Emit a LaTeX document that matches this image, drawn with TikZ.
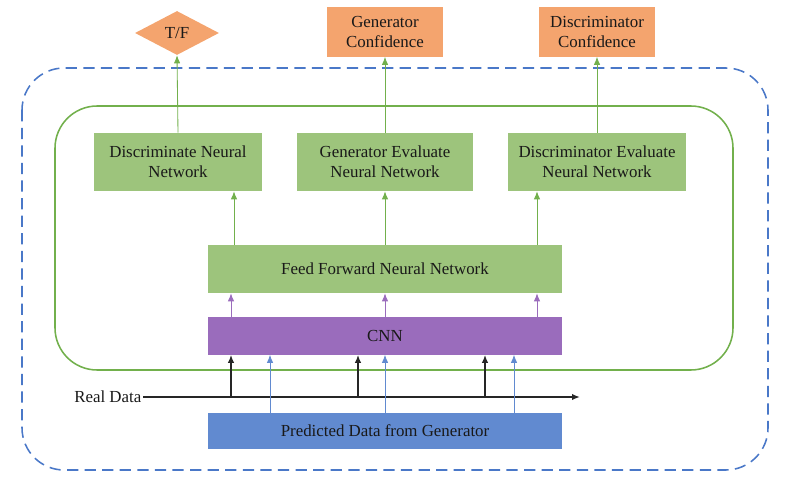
\documentclass[tikz,border=0pt]{standalone}
\usepackage{fontspec}
\setmainfont{Liberation Serif}
\usepackage{xcolor}
\definecolor{outOrange}{HTML}{F4A46E}
\definecolor{nnGreen}{HTML}{9DC47C}
\definecolor{lnGreen}{HTML}{72B04C}
\definecolor{cnnPurple}{HTML}{9A6CBC}
\definecolor{predBlue}{HTML}{618AD0}
\definecolor{dashBlue}{HTML}{4A78C8}
\usetikzlibrary{arrows.meta, positioning, shapes.geometric, calc}

\begin{document}
\begin{tikzpicture}[
  x=0.025cm, y=-0.025cm,
  every node/.style={font=\fontsize{12}{14.5}\selectfont, text=black!90},
  box/.style={rectangle, inner sep=2pt, align=center},
  nnbox/.style={box, fill=nnGreen, minimum height=1.45cm},
  outbox/.style={box, fill=outOrange, minimum width=2.875cm, minimum height=1.225cm},
  wide/.style={box, minimum width=8.85cm},
  garrow/.style={-{Latex[length=2mm, width=1.6mm]}, lnGreen, line width=0.6pt},
  parrow/.style={-{Latex[length=2mm, width=1.6mm]}, cnnPurple, line width=0.6pt},
  barrow/.style={-{Latex[length=2mm, width=1.6mm]}, predBlue, line width=0.6pt},
  karrow/.style={-{Latex[length=2mm, width=1.6mm]}, black!85, line width=1.1pt},
]
  \useasboundingbox (0,0) rectangle (799,491);

  % frames
  \draw[dashBlue, line width=1.1pt, dash pattern=on 8pt off 4.5pt, rounded corners=30]
    (22,68) rectangle (768,470);
  \draw[lnGreen, line width=1.1pt, rounded corners=30] (55,106) rectangle (733,370);

  % outputs
  \node[diamond, fill=outOrange, inner sep=0pt, minimum width=2.1cm, minimum height=1.1cm] (tf) at (177,33) {T/F};
  \node[outbox] (genconf) at (385,32) {Generator\\Confidence};
  \node[outbox] (disconf) at (597,32) {Discriminator\\Confidence};

  % evaluation networks
  \node[nnbox, minimum width=4.175cm] (discnn) at (178,162) {Discriminate Neural\\Network};
  \node[nnbox, minimum width=4.375cm] (gennn) at (385,162) {Generator Evaluate\\Neural Network};
  \node[nnbox, minimum width=4.425cm] (disevnn) at (597,162) {Discriminator Evaluate\\Neural Network};

  \node[wide, fill=nnGreen, minimum height=1.2cm] (ffnn) at (385,269) {Feed Forward Neural Network};
  \node[wide, fill=cnnPurple, minimum height=0.925cm] (cnn) at (385,336) {CNN};
  \node[wide, fill=predBlue, minimum height=0.9cm] (pred) at (385,431) {Predicted Data from Generator};

  % real data line
  \node[anchor=east, inner sep=1pt] (real) at (143,397) {Real Data};
  \coordinate (rend) at (580,397);
  \draw[karrow] (real.east) -- (rend);
  \foreach \x [count=\i] in {231,358,485}
    \coordinate (r\i) at (\x,397);
  \foreach \i in {1,2,3}
    \draw[karrow] (r\i) -- (r\i |- cnn.south);

  % predicted data into CNN
  \foreach \x in {270,385,514}
    \draw[barrow] (pred.north -| \x,0) -- (cnn.south -| \x,0);

  % CNN to feed forward
  \foreach \x in {231,385,537}
    \draw[parrow] (cnn.north -| \x,0) -- (ffnn.south -| \x,0);

  % feed forward to evaluators
  \draw[garrow] (ffnn.north -| 234,0) -- (discnn.south -| 234,0);
  \draw[garrow] (ffnn.north) -- (gennn.south);
  \draw[garrow] (ffnn.north -| 537,0) -- (disevnn.south -| 537,0);

  % evaluators to outputs
  \draw[garrow] (discnn.north) -- (tf.south);
  \draw[garrow] (gennn.north) -- (genconf.south);
  \draw[garrow] (disevnn.north) -- (disconf.south);
\end{tikzpicture}
\end{document}
